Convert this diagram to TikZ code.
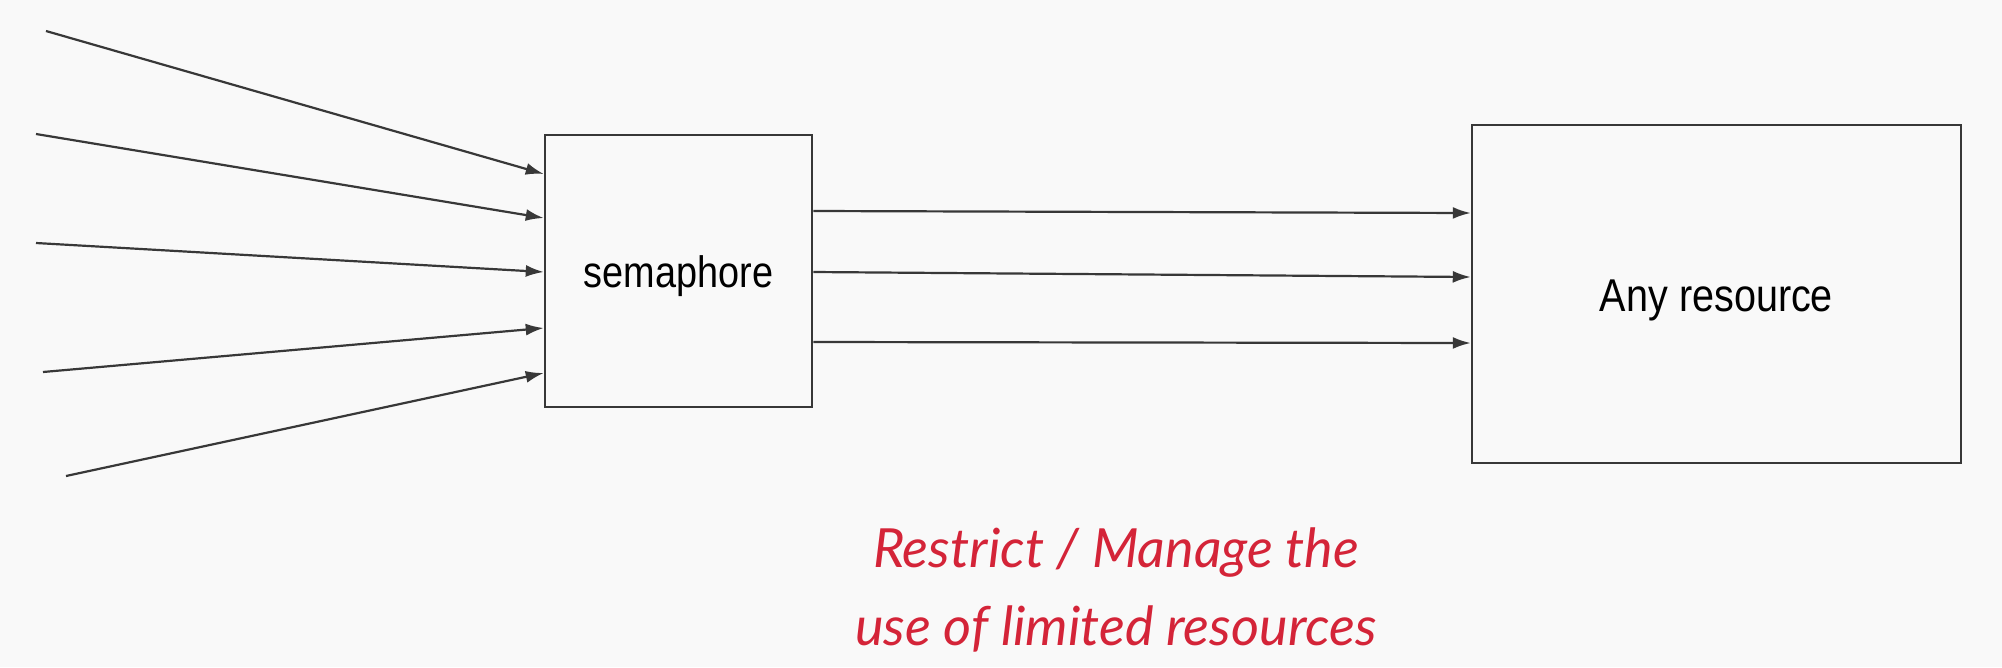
\documentclass[tikz,border=0pt]{standalone}
\usepackage{fontspec}
\setmainfont{Liberation Sans}
\newfontfamily\condfont[FakeStretch=0.86]{Liberation Sans}
\newfontfamily\handfont{Lato}
\usetikzlibrary{arrows.meta}
\definecolor{bg}{RGB}{249,249,249}
\definecolor{ink}{RGB}{56,56,56}
\definecolor{hand}{RGB}{212,36,56}
\tikzset{
  boxnode/.style={draw=ink, line width=2.5pt, fill=bg, inner sep=0pt},
  conn/.style={draw=ink, line width=2.2pt, -{Latex[length=18pt,width=12pt]}},
  note/.style={text=hand, font=\handfont\itshape\fontsize{54}{78}\selectfont, align=center}
}
\begin{document}
\begin{tikzpicture}[x=1pt,y=-1pt]
\fill[bg] (0,0) rectangle (2002,667);
\useasboundingbox (0,0) rectangle (2002,667);
\node[boxnode, minimum width=267pt, minimum height=272pt,
  label={[font=\condfont\fontsize{44}{50}\selectfont, yshift=-5pt]center:semaphore}] (sem) at (678.5,271) {};
\node[boxnode, minimum width=489pt, minimum height=338pt,
  label={[font=\condfont\fontsize{46}{52}\selectfont, yshift=-6pt]center:Any resource}] (res) at (1716.5,294) {};
\coordinate (i1) at (46,31);
\coordinate (i2) at (36,134);
\coordinate (i3) at (36,243);
\coordinate (i4) at (43,372);
\coordinate (i5) at (66,476);
\draw[conn] (i1) -- (sem.west |- 0,174);
\draw[conn] (i2) -- (sem.west |- 0,218);
\draw[conn] (i3) -- (sem.west |- 0,272);
\draw[conn] (i4) -- (sem.west |- 0,328);
\draw[conn] (i5) -- (sem.west |- 0,373);
\draw[conn] (sem.east |- 0,211) -- (res.west |- 0,213);
\draw[conn] (sem.east |- 0,272) -- (res.west |- 0,277);
\draw[conn] (sem.east |- 0,342) -- (res.west |- 0,343);
\node[note] (txt) at (1116,590) {Restrict / Manage the\\use of limited resources};
\end{tikzpicture}
\end{document}
